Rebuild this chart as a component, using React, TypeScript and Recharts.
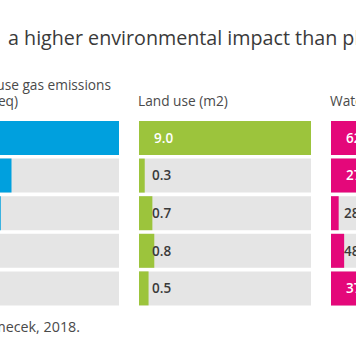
import React from 'react'
import { BarChart, Bar, XAxis, YAxis, LabelList } from 'recharts'

const milks = ['Dairy milk', 'Rice milk', 'Soy milk', 'Oat milk', 'Almond milk']
const ghgValues = [3.2, 1.2, 1.0, 0.9, 0.7]
const landValues = [9.0, 0.3, 0.7, 0.8, 0.5]
const waterValues = [628, 270, 28, 48, 371]

const FONT = '"Open Sans", "Noto Sans", sans-serif'
const PANEL_W = 172
const PANEL_H = 188

function makeLabel(decimals: number) {
  return (props: any) => {
    const { x, y, width, height, value } = props
    const inside = width > 30
    return (
      <text
        x={x + (inside ? 15 : 13)}
        y={y + height / 2}
        dy="0.36em"
        fontSize={13.5}
        fontWeight={600}
        fontFamily={FONT}
        fill={inside ? '#ffffff' : '#3a3a3a'}
      >
        {Number(value).toFixed(decimals)}
      </text>
    )
  }
}

function Panel({ values, max, colour, decimals, left }: {
  values: number[]
  max: number
  colour: string
  decimals: number
  left: number
}) {
  const data = milks.map((name, i) => ({ name, value: values[i] }))
  return (
    <div style={{ position: 'absolute', left, top: 119 }}>
      <BarChart
        layout="vertical"
        width={PANEL_W}
        height={PANEL_H}
        data={data}
        margin={{ top: 0, right: 0, bottom: 0, left: 0 }}
        barCategoryGap={2}
      >
        <XAxis type="number" domain={[0, max]} hide />
        <YAxis type="category" dataKey="name" hide />
        <Bar dataKey="value" fill={colour} background={{ fill: '#e5e5e5' }} isAnimationActive={false}>
          <LabelList dataKey="value" content={makeLabel(decimals)} />
        </Bar>
      </BarChart>
    </div>
  )
}

export default function App() {
  return (
    <div
      style={{
        position: 'fixed',
        left: 0,
        top: 0,
        width: 356,
        height: 364,
        overflow: 'hidden',
        background: '#fff',
      }}
    >
      <Panel values={ghgValues} max={3.2} colour="#00a0de" decimals={1} left={-53} />
      <Panel values={landValues} max={9} colour="#9cc43c" decimals={1} left={139} />
      <Panel values={waterValues} max={628} colour="#e4087a" decimals={0} left={331} />
      <svg width={356} height={364} style={{ position: 'absolute', left: 0, top: 0, pointerEvents: 'none' }}>
        <text x={8} y={45} fontSize={19.7} fontFamily={FONT} fill="#3a3a3a">
          a higher environmental impact than plant-based milks
        </text>
        <text x={111} y={90} textAnchor="end" fontSize={13.7} fontFamily={FONT} fill="#4a4a4a">
          Greenhouse gas emissions
        </text>
        <text x={18} y={106} textAnchor="end" fontSize={13.7} fontFamily={FONT} fill="#4a4a4a">
          (kg CO2eq)
        </text>
        <text x={138} y={106} fontSize={13.7} fontFamily={FONT} fill="#4a4a4a">
          Land use (m2)
        </text>
        <text x={330} y={106} fontSize={13.7} fontFamily={FONT} fill="#4a4a4a">
          Water use (L)
        </text>
        <text x={80} y={332} textAnchor="end" fontSize={14.3} fontFamily={FONT} fill="#4a4a4a">
          Source: Poore &amp; Nemecek, 2018.
        </text>
      </svg>
    </div>
  )
}
